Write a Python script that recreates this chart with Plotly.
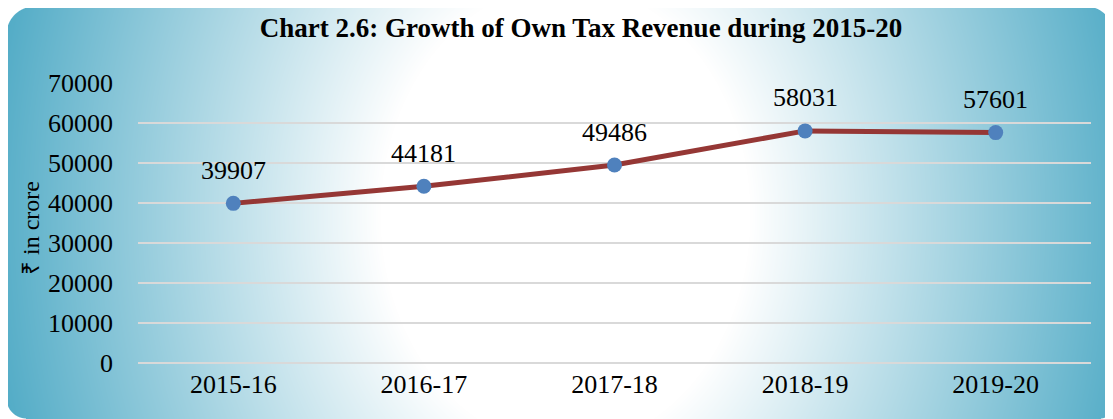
import base64, struct, zlib
import numpy as np
import plotly.graph_objects as go

# ---- data ----
years = ["2015-16", "2016-17", "2017-18", "2018-19", "2019-20"]
revenue = [39907, 44181, 49486, 58031, 57601]
y_ticks = [0, 10000, 20000, 30000, 40000, 50000, 60000, 70000]
title_text = "<b>Chart 2.6: Growth of Own Tax Revenue during 2015-20</b>"
y_title = "₹ in crore"

# page has an 8px body margin, so the figure is offset by 8px
OFF = 8
W, H = 1113 - OFF, 419 - OFF
ML, MR, MT, MB = 138 - OFF, 22, 83 - OFF, 56
PW, PH = W - ML - MR, H - MT - MB

# ---- background: radial gradient in a rounded rectangle (decorative) ----
def make_bg():
    yy, xx = np.mgrid[0:H, 0:W].astype(float)
    xx = xx + OFF
    yy = yy + OFF
    cx, cy = 565.0, 215.0
    t = np.sqrt(((xx - cx) / 560.0) ** 2 + ((yy - cy) / 700.0) ** 2)
    f = np.clip((t - 0.33) / 0.74, 0, 1)
    teal = np.array([74, 168, 196], float)
    white = np.array([255, 255, 255], float)
    rgb = white[None, None, :] * (1 - f[..., None]) + teal[None, None, :] * f[..., None]
    x0, y0, x1, y1 = 6, 6, 1112, 418
    alpha = np.zeros((H, W))
    inside = (xx >= x0) & (xx <= x1) & (yy >= y0) & (yy <= y1)
    alpha[inside] = 1.0
    corners = [(x0, y0, 28, -1, -1), (x1, y0, 26, 1, -1), (x0, y1, 20, -1, 1), (x1, y1, 12, 1, 1)]
    for cxr, cyr, r, sx, sy in corners:
        ccx = cxr - sx * r
        ccy = cyr - sy * r
        region = ((xx - ccx) * sx > 0) & ((yy - ccy) * sy > 0)
        d = np.sqrt((xx - ccx) ** 2 + (yy - ccy) ** 2)
        a = np.clip(r + 0.5 - d, 0, 1)
        alpha[region] = np.minimum(alpha[region], a[region])
    img = np.dstack([rgb, alpha[..., None] * 255]).astype(np.uint8)
    raw = b"".join(b"\x00" + img[r].tobytes() for r in range(H))
    def chunk(tag, data):
        c = struct.pack(">I", len(data)) + tag + data
        return c + struct.pack(">I", zlib.crc32(tag + data) & 0xffffffff)
    png = b"\x89PNG\r\n\x1a\n" + chunk(b"IHDR", struct.pack(">IIBBBBB", W, H, 8, 6, 0, 0, 0)) \
        + chunk(b"IDAT", zlib.compress(raw, 9)) + chunk(b"IEND", b"")
    return "data:image/png;base64," + base64.b64encode(png).decode()

FONT = "Liberation Serif, Times New Roman, serif"

fig = go.Figure()
fig.add_trace(go.Scatter(
    x=years, y=revenue, mode="lines+markers",
    line=dict(color="#953735", width=5),
    marker=dict(color="#4F81BD", size=15),
    cliponaxis=False, showlegend=False,
))

annotations = [dict(x=yr, y=v, text=str(v), showarrow=False, yshift=33,
                    xanchor="center", yanchor="middle",
                    font=dict(family=FONT, size=26, color="#000000"))
               for yr, v in zip(years, revenue)]
annotations.append(dict(text=y_title, textangle=-90, xref="paper", yref="paper",
                        x=(31 - OFF - ML) / PW, y=(363 - 228) / PH,
                        xanchor="center", yanchor="middle", showarrow=False,
                        font=dict(family=FONT, size=24, color="#000000")))

fig.update_layout(
    width=W, height=H,
    margin=dict(l=ML, r=MR, t=MT, b=MB),
    paper_bgcolor="#FFFFFF", plot_bgcolor="rgba(0,0,0,0)",
    font=dict(family=FONT, size=26, color="#000000"),
    title=dict(text=title_text, xref="paper", x=(581 - OFF - ML) / PW, xanchor="center",
               y=1 - (28 - OFF) / H, yanchor="middle",
               font=dict(family=FONT, size=27, color="#000000")),
    xaxis=dict(range=[-0.5, len(years) - 0.5], showgrid=False, showline=False,
               zeroline=False, ticks="",
               tickfont=dict(family=FONT, size=26), ticklabelstandoff=3),
    yaxis=dict(range=[0, 70000], tickvals=y_ticks, ticktext=[str(v) for v in y_ticks],
               showgrid=True, gridcolor="#D9D9D9", gridwidth=1.5,
               zeroline=True, zerolinecolor="#D9D9D9", zerolinewidth=1.5,
               showline=False, ticks="", tickfont=dict(family=FONT, size=26),
               ticklabelstandoff=24),
    images=[dict(source=make_bg(), xref="paper", yref="paper",
                 x=-ML / PW, y=1 + MT / PH, sizex=W / PW, sizey=H / PH,
                 xanchor="left", yanchor="top", sizing="stretch", layer="below")],
    annotations=annotations,
)

fig.write_html("out.html")
